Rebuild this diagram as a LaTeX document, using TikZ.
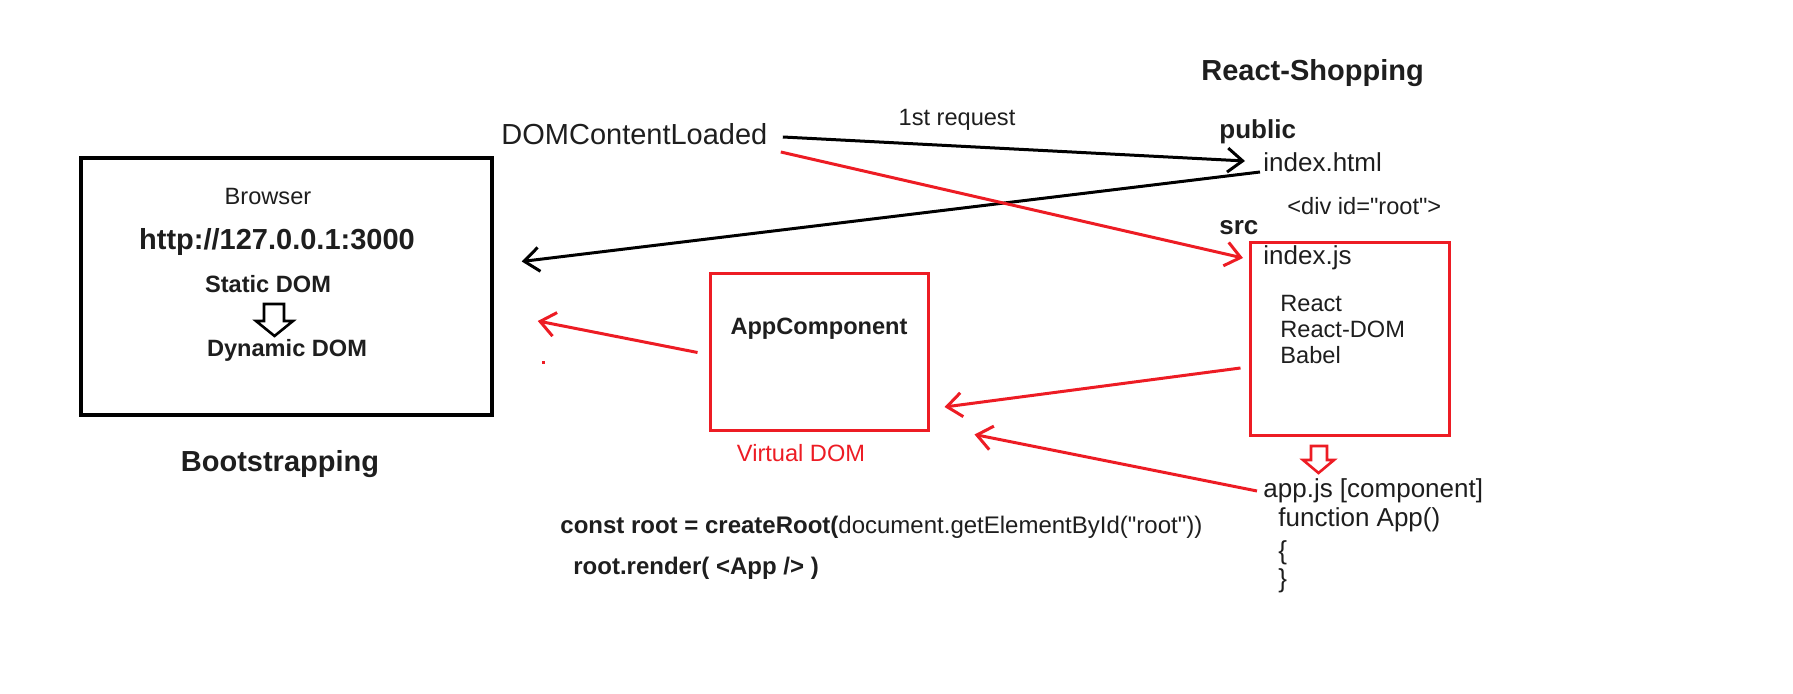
\documentclass[tikz,border=0pt]{standalone}
\usepackage{fontspec}
\setmainfont{Liberation Sans}[Ligatures=TeXOff]
\usetikzlibrary{arrows.meta}
\definecolor{ink}{HTML}{1E1E1E}
\definecolor{paintred}{HTML}{ED1C24}
\begin{document}
\begin{tikzpicture}
    [x=0.5pt, y=-0.5pt,
    big/.style = {font=\fontsize{14.5}{17}\selectfont},
    mid/.style = {font=\fontsize{13}{15}\selectfont},
    small/.style = {font=\fontsize{11.8}{14}\selectfont},
    code/.style = {font=\fontsize{12}{14}\selectfont},
    txt/.style = {inner sep=0pt, text=ink},
    box/.style = {draw, rectangle, inner sep=0pt},
    flow/.style = {line width=1.5pt, -{Straight Barb[length=7.5pt,width=12pt]}},
    hollow/.style = {line width=1.3pt, fill=white, line join=miter}]
    \useasboundingbox (0,0) rectangle (1793,694);
    % Browser
    \node[box, line width=1.75pt, minimum width=205.5pt, minimum height=128.5pt] (browser) at (286.5,286.5) {};
    \node[txt, small] (brw) at (268,197) {Browser};
    \node[txt, big] (url) at (277,242) {\bfseries http://127.0.0.1:3000};
    \node[txt, small] (static) at (268,284) {\bfseries Static DOM};
    \node[txt, small] (dynamic) at (287,350) {\bfseries Dynamic DOM};
    \draw[hollow] (264,304) -- (284,304) -- (284,321) -- (293,321) -- (274.5,336) -- (256,321) -- (264,321) -- cycle;
    \node[txt, big] (boot) at (280,464) {\bfseries Bootstrapping};
    % Event
    \node[txt, big, anchor=west] (dcl) at (501,134) {DOMContentLoaded};
    \node[txt, small] (req) at (957,120) {1st request};
    % Project
    \node[txt, big, anchor=west] (proj) at (1201,73) {\bfseries React-Shopping};
    \node[txt, mid, anchor=west] (public) at (1219,132) {\bfseries public};
    \node[txt, mid, anchor=west] (html) at (1263,162) {index.html};
    \node[txt, small, anchor=west] (div) at (1287,206) {<div id="root">};
    \node[txt, mid, anchor=west] (src) at (1219,228) {\bfseries src};
    \node[box, draw=paintred, line width=1.5pt, minimum width=99.5pt, minimum height=96.5pt] (idxbox) at (1349.5,339.5) {};
    \node[txt, mid, anchor=west] (idxjs) at (1263,258) {index.js};
    \node[txt, small, anchor=west] (react) at (1280,303) {React};
    \node[txt, small, anchor=west] (rdom) at (1280,329) {React-DOM};
    \node[txt, small, anchor=west] (babel) at (1280,355) {Babel};
    \draw[hollow, draw=paintred] (1311,446) -- (1327,446) -- (1327,460) -- (1334,460) -- (1318.5,473) -- (1303,460) -- (1311,460) -- cycle;
    \node[txt, mid, anchor=west] (appjs) at (1263,491) {app.js [component]};
    \node[txt, mid, anchor=west] (fn) at (1278,520) {function App()};
    \node[txt, mid, anchor=west] (lbr) at (1278,553) {\{};
    \node[txt, mid, anchor=west] (rbr) at (1278,581) {\}};
    % Virtual DOM
    \node[box, draw=paintred, line width=1.5pt, minimum width=109pt, minimum height=78.5pt] (appbox) at (819,352.5) {};
    \node[txt, small] (appc) at (819,329) {\bfseries AppComponent};
    \node[txt, small, text=paintred] (vdom) at (801,453) {Virtual DOM};
    % Code
    \node[txt, code, anchor=west] (create) at (560,527) {{\bfseries const root = createRoot(}document.getElementById("root"))};
    \node[txt, code, anchor=west] (render) at (573,568) {\bfseries root.render( <App /> )};
    % Arrows
    \draw[flow] ([shift={(15,3)}]dcl.east) -- ([shift={(-18,-1)}]html.west);
    \draw[flow] ([shift={(-3,10)}]html.west) -- ([shift={(28,-25)}]browser.east);
    \draw[flow, paintred] ([shift={(13,18)}]dcl.east) -- ([shift={(-20,0)}]idxjs.west);
    \draw[flow, paintred] ([shift={(-11,0)}]appbox.west) -- ([shift={(44,34.5)}]browser.east);
    \draw[flow, paintred] ([shift={(-8,28.5)}]idxbox.west) -- ([shift={(15,54.5)}]appbox.east);
    \draw[flow, paintred] ([shift={(-6,0)}]appjs.west) -- ([shift={(45,2)}]appbox.south east);
    \fill[paintred] (541.5,361.5) rectangle (544.5,364.5);
\end{tikzpicture}
\end{document}
